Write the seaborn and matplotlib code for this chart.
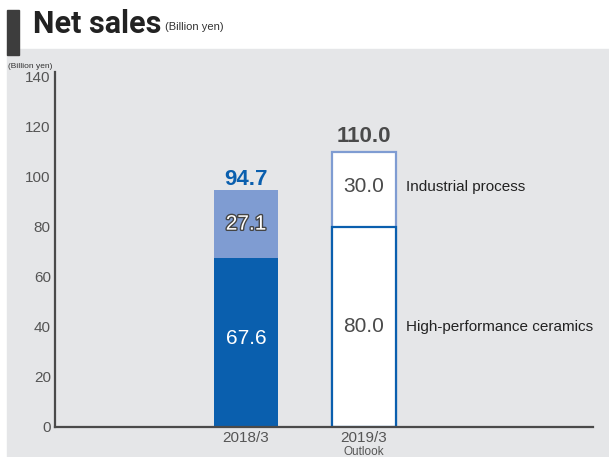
import matplotlib
matplotlib.use("Agg")
import matplotlib.pyplot as plt
import matplotlib.patheffects as pe
from matplotlib.patches import Rectangle
import seaborn as sns
import pandas as pd

# Net sales by segment (billion yen)
periods = ["2018/3", "2019/3"]
ceramics = [67.6, 80.0]      # High-performance ceramics
industrial = [27.1, 30.0]    # Industrial process
totals = [c + i for c, i in zip(ceramics, industrial)]
yticks = [0, 20, 40, 60, 80, 100, 120, 140]
segment_names = ["Industrial process", "High-performance ceramics"]

DARK_BLUE = "#0a5fae"
LIGHT_BLUE = "#7f9cd2"
GRAY_BG = "#e5e6e8"
AXIS = "#4a4a4a"
TEXT = "#4a4a4a"

sns.set_theme(style="white")
plt.rcParams["font.family"] = ["Liberation Sans", "DejaVu Sans"]

W, H = 609, 457
fig = plt.figure(figsize=(W / 100, H / 100), dpi=100, facecolor="white")

# page panel and title bar
fig.patches.append(Rectangle((7 / W, 0), 1 - 7 / W, 1 - 49 / H,
                             transform=fig.transFigure, color=GRAY_BG, zorder=-10))
fig.patches.append(Rectangle((7 / W, 1 - 55 / H), 12 / W, 45 / H,
                             transform=fig.transFigure, color="#3d3d3d", zorder=-9))
fig.text(33 / W, 1 - 24 / H, "Net sales", fontsize=22, fontweight="bold",
         family=["Roboto", "DejaVu Sans"], color="#222222", va="center", ha="left")
fig.text(165 / W, 1 - 27 / H, "(Billion yen)", fontsize=8, color="#333333",
         va="center", ha="left")

ax = fig.add_axes([55 / W, 1 - 427 / H, (593 - 55) / W, (427 - 72) / H])
ax.set_facecolor(GRAY_BG)

df = pd.DataFrame({"period": periods, "total": totals, "ceramics": ceramics})
bw = 64 / 118

# full-height bars (industrial segment shows above the ceramics part)
sns.barplot(data=df, x="period", y="total", hue="period",
            palette=[LIGHT_BLUE, "white"], legend=False, width=bw,
            ax=ax, zorder=2, saturation=1)
n_top = len(ax.patches)
sns.barplot(data=df, x="period", y="ceramics", hue="period",
            palette=[DARK_BLUE, "white"], legend=False, width=bw,
            ax=ax, zorder=3, saturation=1)
bars = ax.patches
top_bars = bars[:n_top]
low_bars = bars[n_top:]
for p in top_bars:
    if p.get_facecolor()[:3] == (1.0, 1.0, 1.0):
        p.set_edgecolor(LIGHT_BLUE)
        p.set_linewidth(1.6)
    else:
        p.set_linewidth(0)
for p in low_bars:
    if p.get_facecolor()[:3] == (1.0, 1.0, 1.0):
        p.set_edgecolor(DARK_BLUE)
        p.set_linewidth(1.6)
    else:
        p.set_linewidth(0)

ax.set_xlim(-1.619, 2.941)
ax.set_ylim(0, 142)
ax.set_yticks(yticks)
ax.set_xlabel("")
ax.set_ylabel("")

# value labels
for i, (c, ind, t) in enumerate(zip(ceramics, industrial, totals)):
    if i == 0:
        ax.text(i, c / 2 + 1.5, f"{c:.1f}", color="white", fontsize=15,
                ha="center", va="center", zorder=5)
        ax.text(i, c + ind / 2, f"{ind:.1f}", color="white", fontsize=15,
                ha="center", va="center", zorder=5,
                path_effects=[pe.withStroke(linewidth=2, foreground="#444444")])
        ax.text(i, t + 0.2, f"{t:.1f}", color=DARK_BLUE, fontsize=16,
                fontweight="bold", ha="center", va="bottom", zorder=5)
    else:
        ax.text(i, c / 2, f"{c:.1f}", color=TEXT, fontsize=15,
                ha="center", va="center", zorder=5)
        ax.text(i, c + ind / 2 + 1, f"{ind:.1f}", color=TEXT, fontsize=15,
                ha="center", va="center", zorder=5)
        ax.text(i, t + 2, f"{t:.1f}", color=TEXT, fontsize=16,
                fontweight="bold", ha="center", va="bottom", zorder=5)
        # segment names beside the outlook bar
        ax.text(i + 0.356, c + ind / 2 + 1, segment_names[0], color="#222222",
                fontsize=11, ha="left", va="center")
        ax.text(i + 0.356, c / 2, segment_names[1], color="#222222",
                fontsize=11, ha="left", va="center")

# axes styling
for s in ["top", "right"]:
    ax.spines[s].set_visible(False)
for s in ["left", "bottom"]:
    ax.spines[s].set_color(AXIS)
    ax.spines[s].set_linewidth(1.6)
    ax.spines[s].set_zorder(6)
ax.tick_params(axis="y", direction="in", length=4.5, width=1.5, color=AXIS,
               labelsize=11, labelcolor="#555555", pad=3)
ax.tick_params(axis="x", length=0, labelsize=11, labelcolor="#555555", pad=3)
ax.text(periods.index("2019/3"), -0.054, "Outlook", transform=ax.get_xaxis_transform(),
        fontsize=8.5, color="#555555", ha="center", va="top")
fig.text(8 / W, 1 - 66 / H, "(Billion yen)", fontsize=6, color="#333333",
         ha="left", va="center")

fig.savefig("out.png", dpi=100, facecolor="white")
